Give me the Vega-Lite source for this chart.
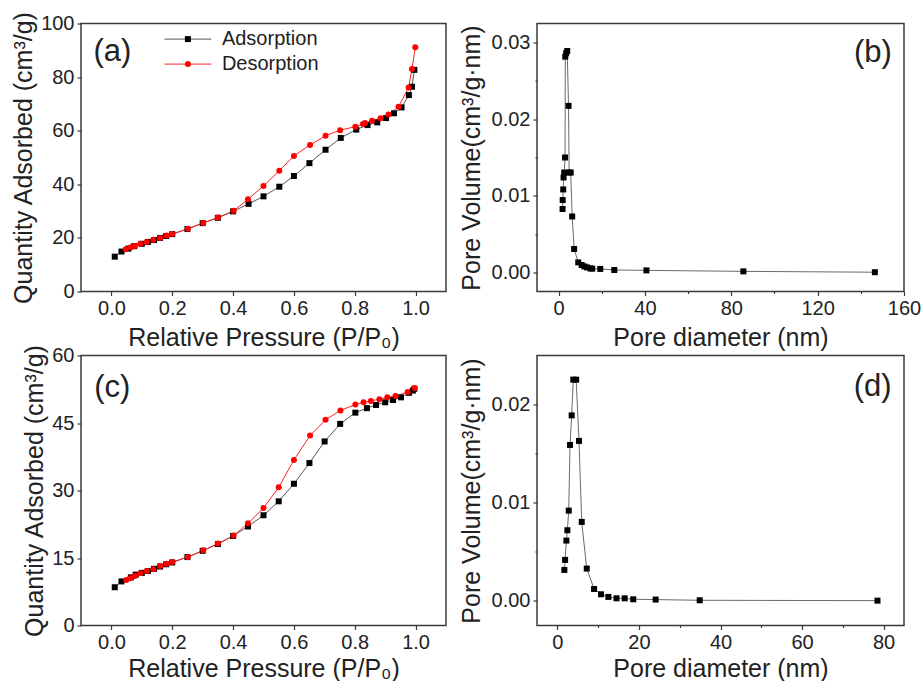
{
  "$schema": "https://vega.github.io/schema/vega-lite/v6.json",
  "padding": {"left": 10, "top": 9.5, "right": 5, "bottom": 0},
  "background": "white",
  "config": {
    "font": "Liberation Sans",
    "view": {"stroke": "#3a3a3a", "strokeWidth": 1.5},
    "axis": {
      "grid": false,
      "domain": false,
      "tickColor": "#3a3a3a",
      "tickWidth": 1.2,
      "labelFont": "Liberation Sans",
      "titleFont": "Liberation Sans",
      "labelFontSize": 20,
      "titleFontSize": 25,
      "titleFontWeight": "normal",
      "labelColor": "#222",
      "titleColor": "#222",
      "labelPadding": 3,
      "titlePadding": 4,
      "labelOverlap": false,
      "labelFlush": false,
      "labelBound": false
    },
    "axisX": {"titlePadding": 7},
    "legend": {"labelFont": "Liberation Sans", "labelFontSize": 20, "labelColor": "#222", "padding": 0, "rowPadding": 5}
  },
  "datasets": {
    "a": [
      {"p": 0.011, "q": 13.0, "series": "Adsorption"},
      {"p": 0.033, "q": 14.9, "series": "Adsorption"},
      {"p": 0.056, "q": 16.0, "series": "Adsorption"},
      {"p": 0.075, "q": 16.9, "series": "Adsorption"},
      {"p": 0.10, "q": 17.8, "series": "Adsorption"},
      {"p": 0.12, "q": 18.5, "series": "Adsorption"},
      {"p": 0.14, "q": 19.2, "series": "Adsorption"},
      {"p": 0.16, "q": 20.0, "series": "Adsorption"},
      {"p": 0.18, "q": 20.7, "series": "Adsorption"},
      {"p": 0.20, "q": 21.4, "series": "Adsorption"},
      {"p": 0.25, "q": 23.3, "series": "Adsorption"},
      {"p": 0.30, "q": 25.5, "series": "Adsorption"},
      {"p": 0.35, "q": 27.5, "series": "Adsorption"},
      {"p": 0.40, "q": 29.9, "series": "Adsorption"},
      {"p": 0.451, "q": 32.7, "series": "Adsorption"},
      {"p": 0.50, "q": 35.5, "series": "Adsorption"},
      {"p": 0.552, "q": 39.1, "series": "Adsorption"},
      {"p": 0.60, "q": 43.1, "series": "Adsorption"},
      {"p": 0.651, "q": 47.9, "series": "Adsorption"},
      {"p": 0.704, "q": 52.9, "series": "Adsorption"},
      {"p": 0.754, "q": 57.3, "series": "Adsorption"},
      {"p": 0.805, "q": 60.4, "series": "Adsorption"},
      {"p": 0.842, "q": 62.1, "series": "Adsorption"},
      {"p": 0.874, "q": 63.1, "series": "Adsorption"},
      {"p": 0.903, "q": 64.7, "series": "Adsorption"},
      {"p": 0.929, "q": 66.5, "series": "Adsorption"},
      {"p": 0.954, "q": 68.7, "series": "Adsorption"},
      {"p": 0.978, "q": 73.3, "series": "Adsorption"},
      {"p": 0.988, "q": 76.4, "series": "Adsorption"},
      {"p": 0.996, "q": 82.7, "series": "Adsorption"},
      {"p": 0.999, "q": 91.1, "series": "Desorption"},
      {"p": 0.988, "q": 83.0, "series": "Desorption"},
      {"p": 0.977, "q": 76.1, "series": "Desorption"},
      {"p": 0.944, "q": 68.9, "series": "Desorption"},
      {"p": 0.911, "q": 66.0, "series": "Desorption"},
      {"p": 0.885, "q": 64.6, "series": "Desorption"},
      {"p": 0.857, "q": 63.7, "series": "Desorption"},
      {"p": 0.834, "q": 62.9, "series": "Desorption"},
      {"p": 0.827, "q": 62.5, "series": "Desorption"},
      {"p": 0.802, "q": 61.5, "series": "Desorption"},
      {"p": 0.752, "q": 60.2, "series": "Desorption"},
      {"p": 0.704, "q": 58.1, "series": "Desorption"},
      {"p": 0.653, "q": 54.7, "series": "Desorption"},
      {"p": 0.600, "q": 50.6, "series": "Desorption"},
      {"p": 0.552, "q": 45.1, "series": "Desorption"},
      {"p": 0.500, "q": 39.4, "series": "Desorption"},
      {"p": 0.449, "q": 34.4, "series": "Desorption"},
      {"p": 0.402, "q": 30.1, "series": "Desorption"},
      {"p": 0.350, "q": 27.6, "series": "Desorption"},
      {"p": 0.302, "q": 25.6, "series": "Desorption"},
      {"p": 0.251, "q": 23.4, "series": "Desorption"},
      {"p": 0.200, "q": 21.5, "series": "Desorption"},
      {"p": 0.182, "q": 20.9, "series": "Desorption"},
      {"p": 0.160, "q": 20.0, "series": "Desorption"},
      {"p": 0.138, "q": 19.3, "series": "Desorption"},
      {"p": 0.116, "q": 18.5, "series": "Desorption"},
      {"p": 0.095, "q": 17.8, "series": "Desorption"},
      {"p": 0.077, "q": 17.0, "series": "Desorption"},
      {"p": 0.064, "q": 16.5, "series": "Desorption"},
      {"p": 0.047, "q": 15.8, "series": "Desorption"}
    ],
    "c": [
      {"p": 0.011, "q": 8.5, "series": "Adsorption"},
      {"p": 0.033, "q": 9.8, "series": "Adsorption"},
      {"p": 0.064, "q": 10.7, "series": "Adsorption"},
      {"p": 0.08, "q": 11.3, "series": "Adsorption"},
      {"p": 0.10, "q": 11.7, "series": "Adsorption"},
      {"p": 0.12, "q": 12.1, "series": "Adsorption"},
      {"p": 0.14, "q": 12.6, "series": "Adsorption"},
      {"p": 0.16, "q": 13.1, "series": "Adsorption"},
      {"p": 0.18, "q": 13.6, "series": "Adsorption"},
      {"p": 0.20, "q": 14.0, "series": "Adsorption"},
      {"p": 0.25, "q": 15.2, "series": "Adsorption"},
      {"p": 0.30, "q": 16.6, "series": "Adsorption"},
      {"p": 0.35, "q": 18.1, "series": "Adsorption"},
      {"p": 0.40, "q": 19.9, "series": "Adsorption"},
      {"p": 0.449, "q": 22.0, "series": "Adsorption"},
      {"p": 0.50, "q": 24.5, "series": "Adsorption"},
      {"p": 0.55, "q": 27.6, "series": "Adsorption"},
      {"p": 0.60, "q": 31.5, "series": "Adsorption"},
      {"p": 0.651, "q": 36.1, "series": "Adsorption"},
      {"p": 0.701, "q": 40.9, "series": "Adsorption"},
      {"p": 0.752, "q": 44.8, "series": "Adsorption"},
      {"p": 0.802, "q": 47.3, "series": "Adsorption"},
      {"p": 0.840, "q": 48.3, "series": "Adsorption"},
      {"p": 0.870, "q": 49.0, "series": "Adsorption"},
      {"p": 0.900, "q": 49.6, "series": "Adsorption"},
      {"p": 0.926, "q": 50.1, "series": "Adsorption"},
      {"p": 0.952, "q": 50.7, "series": "Adsorption"},
      {"p": 0.978, "q": 51.7, "series": "Adsorption"},
      {"p": 0.991, "q": 52.2, "series": "Adsorption"},
      {"p": 0.996, "q": 52.6, "series": "Adsorption"},
      {"p": 0.997, "q": 52.8, "series": "Desorption"},
      {"p": 0.974, "q": 51.9, "series": "Desorption"},
      {"p": 0.934, "q": 51.0, "series": "Desorption"},
      {"p": 0.907, "q": 50.7, "series": "Desorption"},
      {"p": 0.881, "q": 50.3, "series": "Desorption"},
      {"p": 0.853, "q": 49.9, "series": "Desorption"},
      {"p": 0.829, "q": 49.6, "series": "Desorption"},
      {"p": 0.802, "q": 49.1, "series": "Desorption"},
      {"p": 0.753, "q": 47.8, "series": "Desorption"},
      {"p": 0.704, "q": 45.7, "series": "Desorption"},
      {"p": 0.653, "q": 42.2, "series": "Desorption"},
      {"p": 0.600, "q": 36.8, "series": "Desorption"},
      {"p": 0.550, "q": 30.7, "series": "Desorption"},
      {"p": 0.500, "q": 26.1, "series": "Desorption"},
      {"p": 0.449, "q": 22.7, "series": "Desorption"},
      {"p": 0.402, "q": 20.0, "series": "Desorption"},
      {"p": 0.350, "q": 18.2, "series": "Desorption"},
      {"p": 0.302, "q": 16.7, "series": "Desorption"},
      {"p": 0.251, "q": 15.2, "series": "Desorption"},
      {"p": 0.200, "q": 14.1, "series": "Desorption"},
      {"p": 0.182, "q": 13.7, "series": "Desorption"},
      {"p": 0.160, "q": 13.2, "series": "Desorption"},
      {"p": 0.138, "q": 12.5, "series": "Desorption"},
      {"p": 0.116, "q": 12.1, "series": "Desorption"},
      {"p": 0.095, "q": 11.6, "series": "Desorption"},
      {"p": 0.077, "q": 11.0, "series": "Desorption"},
      {"p": 0.061, "q": 10.5, "series": "Desorption"},
      {"p": 0.049, "q": 10.1, "series": "Desorption"}
    ],
    "b": [
      {"d": 1.85, "v": 0.00827},
      {"d": 1.9, "v": 0.00944},
      {"d": 2.15, "v": 0.01083},
      {"d": 2.3, "v": 0.01239},
      {"d": 2.6, "v": 0.01304},
      {"d": 3.0, "v": 0.0150},
      {"d": 3.1, "v": 0.02817},
      {"d": 3.5, "v": 0.02861},
      {"d": 4.0, "v": 0.02891},
      {"d": 4.6, "v": 0.02174},
      {"d": 4.9, "v": 0.01304},
      {"d": 5.6, "v": 0.01304},
      {"d": 6.3, "v": 0.0073},
      {"d": 7.2, "v": 0.00305},
      {"d": 9.1, "v": 0.0013},
      {"d": 10.7, "v": 0.00096},
      {"d": 11.9, "v": 0.00078},
      {"d": 13.1, "v": 0.00065},
      {"d": 14.7, "v": 0.00052},
      {"d": 15.6, "v": 0.00048},
      {"d": 19.3, "v": 0.00045},
      {"d": 25.8, "v": 0.00031},
      {"d": 40.7, "v": 0.00026},
      {"d": 85.6, "v": 0.00013},
      {"d": 146.5, "v": 0.00002}
    ],
    "d": [
      {"d": 1.71, "v": 0.00316},
      {"d": 1.89, "v": 0.00418},
      {"d": 2.2, "v": 0.00615},
      {"d": 2.45, "v": 0.0072},
      {"d": 2.78, "v": 0.0092},
      {"d": 3.1, "v": 0.01589},
      {"d": 3.5, "v": 0.0189},
      {"d": 3.9, "v": 0.02254},
      {"d": 4.6, "v": 0.02254},
      {"d": 5.3, "v": 0.0163},
      {"d": 5.97, "v": 0.00805},
      {"d": 7.2, "v": 0.0033},
      {"d": 9.0, "v": 0.00122},
      {"d": 10.7, "v": 0.00068},
      {"d": 12.5, "v": 0.00041},
      {"d": 14.5, "v": 0.00027},
      {"d": 16.5, "v": 0.00027},
      {"d": 18.6, "v": 0.00017},
      {"d": 24.1, "v": 0.00014},
      {"d": 34.9, "v": 0.00007},
      {"d": 78.5, "v": 0.00003}
    ]
  },
  "columns": 2,
  "bounds": "flush",
  "spacing": {"row": 64, "column": 91},
  "concat": [
    {
      "width": 365,
      "height": 268,
      "layer": [
        {
          "data": {"name": "a"},
          "mark": {"type": "line", "strokeWidth": 1},
          "encoding": {
            "x": {"field": "p", "type": "quantitative", "scale": {"domain": [-0.1, 1.1], "nice": false, "zero": false},
              "axis": {"title": "Relative Pressure (P/P₀)", "values": [0, 0.1, 0.2, 0.3, 0.4, 0.5, 0.6, 0.7, 0.8, 0.9, 1.0],
                "labelExpr": "round(datum.value*10)%2==0 ? format(datum.value,'.1f') : ''",
                "tickSize": {"condition": {"test": "round(datum.value*10)%2==0", "value": 4}, "value": 2}}},
            "y": {"field": "q", "type": "quantitative", "scale": {"domain": [0, 100], "nice": false, "zero": false},
              "axis": {"title": "Quantity Adsorbed (cm³/g)", "values": [0, 10, 20, 30, 40, 50, 60, 70, 80, 90, 100],
                "labelExpr": "datum.value%20==0 ? datum.label : ''",
                "tickSize": {"condition": {"test": "datum.value%20==0", "value": 4}, "value": 2}}},
            "stroke": {"field": "series", "type": "nominal",
              "scale": {"domain": ["Adsorption", "Desorption"], "range": ["#555555", "#ff2020"]},
              "legend": {"orient": "none", "legendX": 96.9, "legendY": 5.6, "title": null, "symbolType": "M-7.8,0H7.8", "symbolSize": 36, "symbolStrokeWidth": 1, "labelExpr": "''", "labelOffset": 24}}
          }
        },
        {
          "data": {"name": "a"},
          "mark": {"type": "point", "filled": true, "opacity": 1, "size": 36},
          "encoding": {
            "x": {"field": "p", "type": "quantitative", "scale": {"domain": [-0.1, 1.1], "nice": false, "zero": false}},
            "y": {"field": "q", "type": "quantitative", "scale": {"domain": [0, 100], "nice": false, "zero": false}},
            "fill": {"field": "series", "type": "nominal", "scale": {"range": ["#000000", "#ff0000"]},
              "legend": {"orient": "none", "legendX": 96.9, "legendY": 5.6, "title": null, "symbolSize": 36, "symbolOpacity": 1, "labelOffset": 24}},
            "shape": {"field": "series", "type": "nominal", "scale": {"range": ["square", "circle"]},
              "legend": {"orient": "none", "legendX": 96.9, "legendY": 5.6, "title": null, "symbolSize": 36, "symbolOpacity": 1, "labelOffset": 24}}
          }
        },
        {
          "data": {"values": [{"label": "(a)"}]},
          "mark": {"type": "text", "fontSize": 31, "color": "#222", "baseline": "middle", "align": "center"},
          "encoding": {
            "x": {"datum": 0.003, "type": "quantitative", "scale": {"domain": [-0.1, 1.1], "nice": false, "zero": false}},
            "y": {"datum": 89.2, "type": "quantitative", "scale": {"domain": [0, 100], "nice": false, "zero": false}},
            "text": {"field": "label"}
          }
        }
      ]
    },
    {
      "width": 367,
      "height": 268,
      "layer": [
        {
          "data": {"name": "b"},
          "mark": {"type": "line", "strokeWidth": 1, "color": "#6a6a6a"},
          "encoding": {
            "x": {"field": "d", "type": "quantitative", "scale": {"domain": [-10, 160], "nice": false, "zero": false},
              "axis": {"title": "Pore diameter (nm)", "values": [0, 20, 40, 60, 80, 100, 120, 140, 160],
                "labelExpr": "datum.value%40==0 ? datum.label : ''",
                "tickSize": {"condition": {"test": "datum.value%40==0", "value": 4}, "value": 2}}},
            "y": {"field": "v", "type": "quantitative", "scale": {"domain": [-0.0025, 0.0325], "nice": false, "zero": false},
              "axis": {"title": "Pore Volume(cm³/g·nm)", "titlePadding": 7, "values": [0, 0.005, 0.01, 0.015, 0.02, 0.025, 0.03],
                "labelExpr": "round(datum.value*1000)%10==0 ? format(datum.value,'.2f') : ''",
                "tickSize": {"condition": {"test": "round(datum.value*1000)%10==0", "value": 4}, "value": 2}}}
          }
        },
        {
          "data": {"name": "b"},
          "mark": {"type": "square", "filled": true, "opacity": 1, "size": 36, "color": "#000000"},
          "encoding": {
            "x": {"field": "d", "type": "quantitative", "scale": {"domain": [-10, 160], "nice": false, "zero": false}},
            "y": {"field": "v", "type": "quantitative", "scale": {"domain": [-0.0025, 0.0325], "nice": false, "zero": false}}
          }
        },
        {
          "data": {"values": [{"label": "(b)"}]},
          "mark": {"type": "text", "fontSize": 31, "color": "#222", "baseline": "middle", "align": "center"},
          "encoding": {
            "x": {"datum": 145.6, "type": "quantitative", "scale": {"domain": [-10, 160], "nice": false, "zero": false}},
            "y": {"datum": 0.0286, "type": "quantitative", "scale": {"domain": [-0.0025, 0.0325], "nice": false, "zero": false}},
            "text": {"field": "label"}
          }
        }
      ]
    },
    {
      "width": 365,
      "height": 270,
      "layer": [
        {
          "data": {"name": "c"},
          "mark": {"type": "line", "strokeWidth": 1},
          "encoding": {
            "x": {"field": "p", "type": "quantitative", "scale": {"domain": [-0.1, 1.1], "nice": false, "zero": false},
              "axis": {"title": "Relative Pressure (P/P₀)", "titlePadding": 4, "values": [0, 0.1, 0.2, 0.3, 0.4, 0.5, 0.6, 0.7, 0.8, 0.9, 1.0],
                "labelExpr": "round(datum.value*10)%2==0 ? format(datum.value,'.1f') : ''",
                "tickSize": {"condition": {"test": "round(datum.value*10)%2==0", "value": 4}, "value": 2}}},
            "y": {"field": "q", "type": "quantitative", "scale": {"domain": [0, 60], "nice": false, "zero": false},
              "axis": {"title": "Quantity Adsorbed (cm³/g)", "values": [0, 7.5, 15, 22.5, 30, 37.5, 45, 52.5, 60],
                "labelExpr": "datum.value%15==0 ? datum.label : ''",
                "tickSize": {"condition": {"test": "datum.value%15==0", "value": 4}, "value": 2}}},
            "stroke": {"field": "series", "type": "nominal",
              "scale": {"domain": ["Adsorption", "Desorption"], "range": ["#555555", "#ff2020"]},
              "legend": {"orient": "none", "legendX": 96.9, "legendY": 8.3, "title": null, "symbolType": "M-7.8,0H7.8", "symbolSize": 36, "symbolStrokeWidth": 1, "labelExpr": "''", "labelOffset": 24}}
          }
        },
        {
          "data": {"name": "c"},
          "mark": {"type": "point", "filled": true, "opacity": 1, "size": 36},
          "encoding": {
            "x": {"field": "p", "type": "quantitative", "scale": {"domain": [-0.1, 1.1], "nice": false, "zero": false}},
            "y": {"field": "q", "type": "quantitative", "scale": {"domain": [0, 60], "nice": false, "zero": false}},
            "fill": {"field": "series", "type": "nominal", "scale": {"range": ["#000000", "#ff0000"]},
              "legend": {"orient": "none", "legendX": 96.9, "legendY": 8.3, "title": null, "symbolSize": 36, "symbolOpacity": 1, "labelOffset": 24}},
            "shape": {"field": "series", "type": "nominal", "scale": {"range": ["square", "circle"]},
              "legend": {"orient": "none", "legendX": 96.9, "legendY": 8.3, "title": null, "symbolSize": 36, "symbolOpacity": 1, "labelOffset": 24}}
          }
        },
        {
          "data": {"values": [{"label": "(c)"}]},
          "mark": {"type": "text", "fontSize": 31, "color": "#222", "baseline": "middle", "align": "center"},
          "encoding": {
            "x": {"datum": 0.003, "type": "quantitative", "scale": {"domain": [-0.1, 1.1], "nice": false, "zero": false}},
            "y": {"datum": 52.8, "type": "quantitative", "scale": {"domain": [0, 60], "nice": false, "zero": false}},
            "text": {"field": "label"}
          }
        }
      ]
    },
    {
      "width": 367,
      "height": 270,
      "layer": [
        {
          "data": {"name": "d"},
          "mark": {"type": "line", "strokeWidth": 1, "color": "#6a6a6a"},
          "encoding": {
            "x": {"field": "d", "type": "quantitative", "scale": {"domain": [-5, 85], "nice": false, "zero": false},
              "axis": {"title": "Pore diameter (nm)", "titlePadding": 4, "values": [0, 10, 20, 30, 40, 50, 60, 70, 80],
                "labelExpr": "datum.value%20==0 ? datum.label : ''",
                "tickSize": {"condition": {"test": "datum.value%20==0", "value": 4}, "value": 2}}},
            "y": {"field": "v", "type": "quantitative", "scale": {"domain": [-0.0025, 0.025], "nice": false, "zero": false},
              "axis": {"title": "Pore Volume(cm³/g·nm)", "titlePadding": 7, "values": [0, 0.005, 0.01, 0.015, 0.02],
                "labelExpr": "round(datum.value*1000)%10==0 ? format(datum.value,'.2f') : ''",
                "tickSize": {"condition": {"test": "round(datum.value*1000)%10==0", "value": 4}, "value": 2}}}
          }
        },
        {
          "data": {"name": "d"},
          "mark": {"type": "square", "filled": true, "opacity": 1, "size": 36, "color": "#000000"},
          "encoding": {
            "x": {"field": "d", "type": "quantitative", "scale": {"domain": [-5, 85], "nice": false, "zero": false}},
            "y": {"field": "v", "type": "quantitative", "scale": {"domain": [-0.0025, 0.025], "nice": false, "zero": false}}
          }
        },
        {
          "data": {"values": [{"label": "(d)"}]},
          "mark": {"type": "text", "fontSize": 31, "color": "#222", "baseline": "middle", "align": "center"},
          "encoding": {
            "x": {"datum": 77.3, "type": "quantitative", "scale": {"domain": [-5, 85], "nice": false, "zero": false}},
            "y": {"datum": 0.0218, "type": "quantitative", "scale": {"domain": [-0.0025, 0.025], "nice": false, "zero": false}},
            "text": {"field": "label"}
          }
        }
      ]
    }
  ]
}
